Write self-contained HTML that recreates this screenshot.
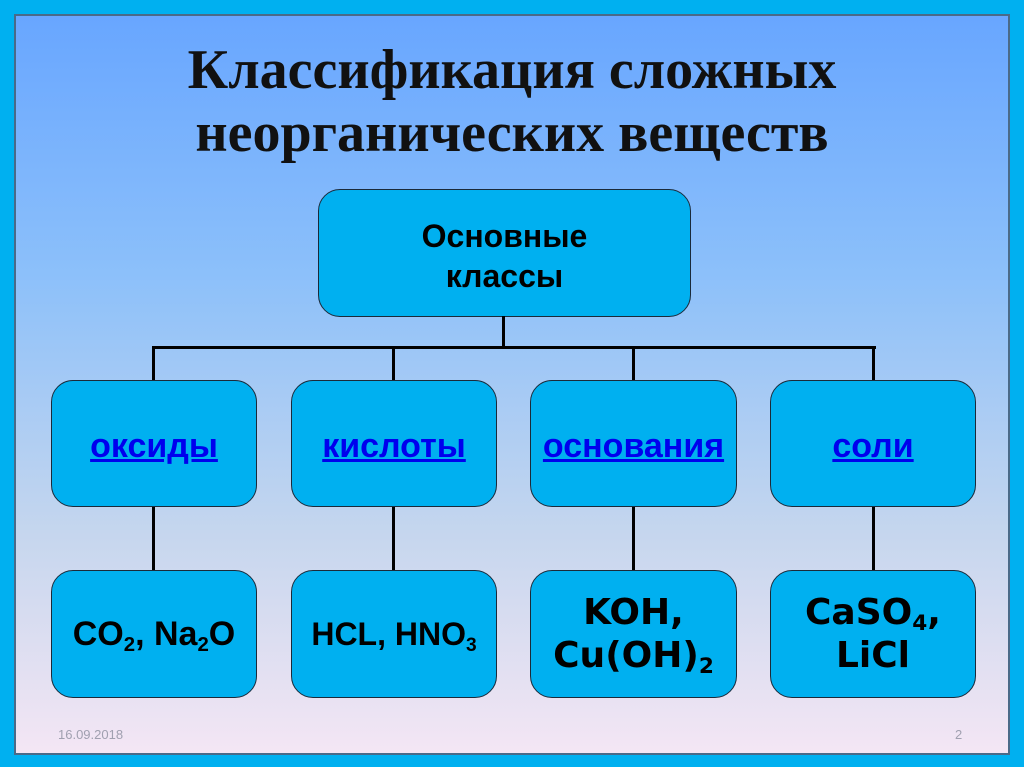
<!DOCTYPE html>
<html><head><meta charset="utf-8"><style>
html,body{margin:0;padding:0}
body{width:1024px;height:767px;background:#00b0f0;position:relative;overflow:hidden;font-family:"Liberation Sans",sans-serif}
.in{position:absolute;left:14px;top:14px;width:992px;height:737px;border:2px solid #4a6a88;background:linear-gradient(#68a6ff 0%,#8cc0fa 35%,#c5d6ee 70%,#f4e6f4 100%)}
.t{position:absolute;left:0;width:1024px;text-align:center;font-family:"Liberation Serif",serif;font-weight:bold;font-size:56px;color:#111;line-height:63px;top:39px}
.b{position:absolute;background:#00b0f0;border:1.5px solid #1a2a3a;border-radius:22px;box-sizing:border-box;display:flex;align-items:center;justify-content:center;text-align:center;font-weight:bold;color:#000}
.l{position:absolute;background:#000}
.r2{padding-top:6px}
a{color:#0000ee;text-decoration:underline;font-size:34px}
sub{font-size:60%;vertical-align:-6px;line-height:0}
.ft{position:absolute;font-size:13px;color:#a0a0b0}
</style></head><body>
<div class="in"></div>
<div class="t">Классификация сложных<br>неорганических веществ</div>
<div class="b" style="left:318px;top:189px;width:373px;height:128px;font-size:32px;line-height:40px;padding-top:5px"><div>Основные<br>классы</div></div>
<div class="l" style="left:502px;top:316px;width:3px;height:33px"></div>
<div class="l" style="left:152px;top:346px;width:724px;height:3px"></div>
<div class="l" style="left:152px;top:346px;width:3px;height:35px"></div>
<div class="l" style="left:392px;top:346px;width:3px;height:35px"></div>
<div class="l" style="left:632px;top:346px;width:3px;height:35px"></div>
<div class="l" style="left:872px;top:346px;width:3px;height:35px"></div>
<div class="l" style="left:152px;top:505px;width:3px;height:66px"></div>
<div class="l" style="left:392px;top:505px;width:3px;height:66px"></div>
<div class="l" style="left:632px;top:505px;width:3px;height:66px"></div>
<div class="l" style="left:872px;top:505px;width:3px;height:66px"></div>
<div class="b r2" style="left:51px;top:380px;width:206px;height:127px"><a>оксиды</a></div>
<div class="b r2" style="left:291px;top:380px;width:206px;height:127px"><a>кислоты</a></div>
<div class="b r2" style="left:530px;top:380px;width:207px;height:127px"><a>основания</a></div>
<div class="b r2" style="left:770px;top:380px;width:206px;height:127px"><a>соли</a></div>
<div class="b" style="left:51px;top:570px;width:206px;height:128px;font-size:34px"><div>CO<sub>2</sub>, Na<sub>2</sub>O</div></div>
<div class="b" style="left:291px;top:570px;width:206px;height:128px;font-size:32px"><div>HCL, HNO<sub>3</sub></div></div>
<div class="b" style="left:530px;top:570px;width:207px;height:128px;font-family:'DejaVu Sans',sans-serif;font-size:36px;line-height:43px"><div>KOH,<br>Cu(OH)<sub>2</sub></div></div>
<div class="b" style="left:770px;top:570px;width:206px;height:128px;font-family:'DejaVu Sans',sans-serif;font-size:36px;line-height:43px"><div>CaSO<sub>4</sub>,<br>LiCl</div></div>
<div class="ft" style="left:58px;top:727px">16.09.2018</div>
<div class="ft" style="left:955px;top:727px">2</div>
</body></html>
